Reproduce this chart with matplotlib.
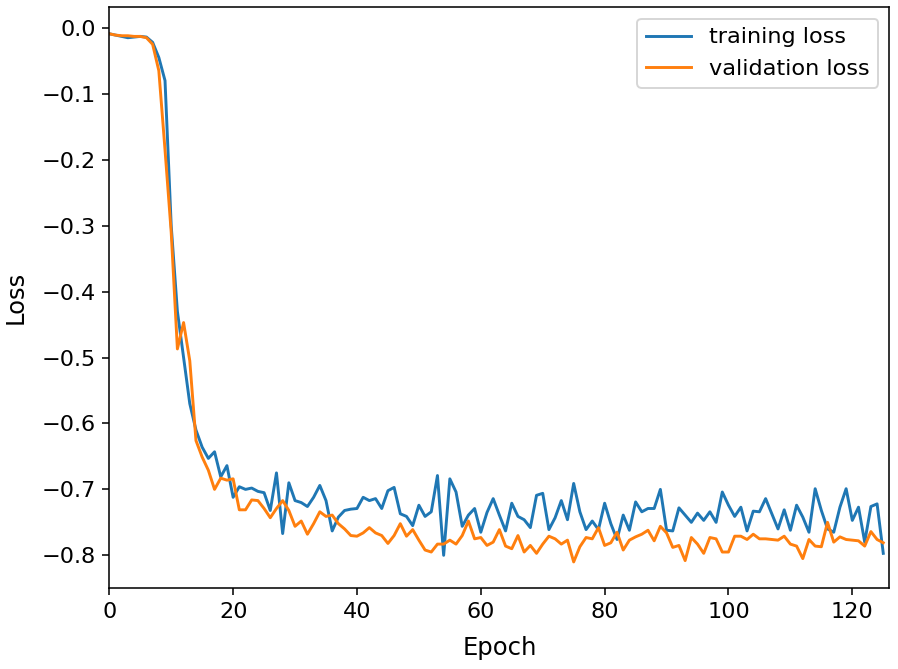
"""
Training / validation loss curves
"""

import numpy as np
import matplotlib
matplotlib.use('Agg')
import matplotlib.pyplot as plt

plt.rcParams['font.size'] = 11.5

# loss per epoch
train_loss = [
    -0.009, -0.011, -0.013, -0.015, -0.014, -0.013, -0.014, -0.022, -0.045, -0.080,
    -0.300, -0.430, -0.500, -0.570, -0.610, -0.636, -0.653, -0.643, -0.681, -0.664,
    -0.712, -0.696, -0.700, -0.698, -0.703, -0.705, -0.732, -0.675, -0.767, -0.690,
    -0.717, -0.720, -0.726, -0.712, -0.694, -0.717, -0.763, -0.742, -0.732, -0.730,
    -0.729, -0.712, -0.717, -0.714, -0.729, -0.702, -0.697, -0.737, -0.741, -0.755,
    -0.724, -0.741, -0.734, -0.679, -0.800, -0.684, -0.704, -0.756, -0.739, -0.729,
    -0.765, -0.735, -0.714, -0.739, -0.763, -0.721, -0.741, -0.746, -0.758, -0.709,
    -0.706, -0.761, -0.743, -0.717, -0.746, -0.691, -0.734, -0.761, -0.748, -0.761,
    -0.721, -0.752, -0.776, -0.739, -0.762, -0.719, -0.734, -0.729, -0.729, -0.700,
    -0.762, -0.763, -0.728, -0.739, -0.750, -0.736, -0.747, -0.734, -0.750, -0.704,
    -0.724, -0.741, -0.727, -0.763, -0.733, -0.734, -0.714, -0.737, -0.760, -0.731,
    -0.762, -0.724, -0.742, -0.765, -0.699, -0.732, -0.760, -0.765, -0.727, -0.699,
    -0.747, -0.727, -0.780, -0.726, -0.722, -0.797,
]

val_loss = [
    -0.009, -0.011, -0.012, -0.012, -0.013, -0.013, -0.015, -0.025, -0.065, -0.185,
    -0.310, -0.487, -0.447, -0.505, -0.626, -0.651, -0.671, -0.700, -0.683, -0.686,
    -0.684, -0.731, -0.731, -0.716, -0.717, -0.729, -0.743, -0.729, -0.717, -0.732,
    -0.756, -0.748, -0.768, -0.752, -0.734, -0.741, -0.739, -0.752, -0.760, -0.770,
    -0.771, -0.766, -0.758, -0.766, -0.770, -0.782, -0.770, -0.752, -0.771, -0.761,
    -0.777, -0.792, -0.795, -0.783, -0.783, -0.777, -0.783, -0.770, -0.748, -0.775,
    -0.773, -0.785, -0.780, -0.761, -0.786, -0.790, -0.770, -0.795, -0.785, -0.797,
    -0.783, -0.771, -0.775, -0.783, -0.777, -0.810, -0.787, -0.773, -0.775, -0.758,
    -0.785, -0.781, -0.765, -0.792, -0.777, -0.772, -0.768, -0.762, -0.778, -0.756,
    -0.766, -0.788, -0.785, -0.808, -0.773, -0.783, -0.797, -0.773, -0.775, -0.795,
    -0.795, -0.771, -0.771, -0.776, -0.768, -0.775, -0.775, -0.776, -0.777, -0.771,
    -0.783, -0.786, -0.805, -0.776, -0.786, -0.787, -0.750, -0.780, -0.772, -0.776,
    -0.777, -0.778, -0.786, -0.764, -0.776, -0.781,
]

epochs = np.arange(len(train_loss))

fig = plt.figure(figsize=(898 / 140, 669 / 140), dpi=140)
ax = fig.add_axes([0.1217, 0.1206, 0.8688, 0.8684])

ax.plot(epochs, train_loss, label='training loss')
ax.plot(epochs, val_loss, label='validation loss')
ax.set_xlim(0, len(train_loss))
ax.set_xlabel('Epoch', fontsize=12.5, labelpad=7)
ax.set_ylabel('Loss', fontsize=12.5, labelpad=7)
ax.legend(loc='upper right')

fig.savefig('out.png', dpi=140)
